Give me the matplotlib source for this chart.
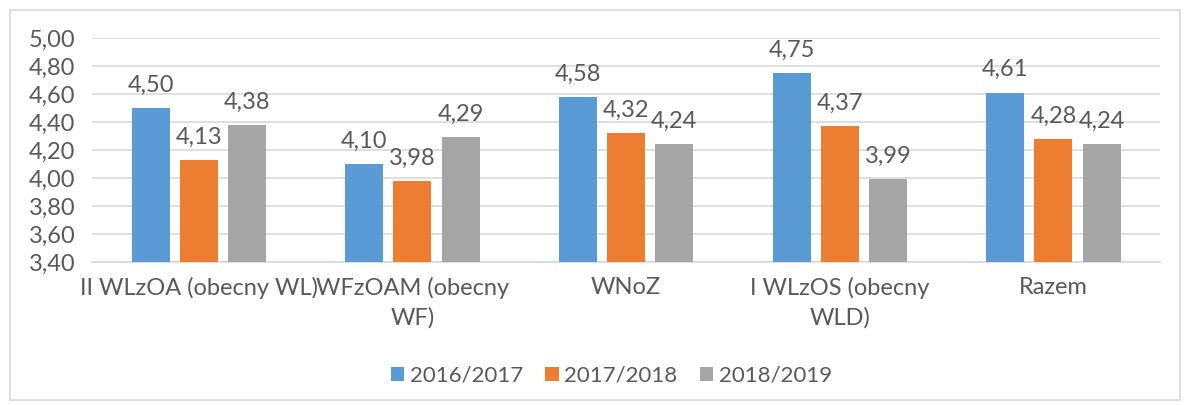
import numpy as np
import matplotlib.pyplot as plt
from matplotlib.patches import Rectangle

# dane z wykresu
kategorie = ['II WLzOA (obecny WL)', 'WFzOAM (obecny\nWF)', 'WNoZ', 'I WLzOS (obecny\nWLD)', 'Razem']
lata = ['2016/2017', '2017/2018', '2018/2019']
v_2016 = [4.50, 4.10, 4.58, 4.75, 4.61]
v_2017 = [4.13, 3.98, 4.32, 4.37, 4.28]
v_2018 = [4.38, 4.29, 4.24, 3.99, 4.24]
kolory = ['#5B9BD5', '#ED7D31', '#A5A5A5']

tekst = '#595959'
fs = 17
plt.rcParams['font.family'] = ['Lato', 'DejaVu Sans']

fig = plt.figure(figsize=(11.87, 4.05), dpi=100)
fig.patches.append(Rectangle((10 / 1187, 5 / 405), 1170 / 1187, 390 / 405,
                             transform=fig.transFigure, fill=False,
                             edgecolor='#D9D9D9', linewidth=1.2))
ax = fig.add_axes([0.0775, 0.353, 0.9, 0.553])

x = np.arange(len(kategorie))
w = 0.178
odstep = 0.047
for i, (seria, kolor, rok) in enumerate(zip([v_2016, v_2017, v_2018], kolory, lata)):
    pos = x + (i - 1) * (w + odstep)
    ax.bar(pos, [v - 3.4 for v in seria], w, bottom=3.4, color=kolor, label=rok, zorder=3)
    for p, v in zip(pos, seria):
        ax.annotate(f'{v:.2f}'.replace('.', ','), (p, v), xytext=(0, 9),
                    textcoords='offset points', ha='center', va='bottom',
                    fontsize=fs, color=tekst)

ax.set_ylim(3.4, 5.0)
ax.set_xlim(-0.5, len(kategorie) - 0.5)
yt = np.arange(3.4, 5.01, 0.2)
ax.set_yticks(yt)
ax.set_yticklabels([f'{t:.2f}'.replace('.', ',') for t in yt], fontsize=fs, color=tekst)
ax.set_xticks(x)
ax.set_xticklabels(kategorie, fontsize=fs, color=tekst, linespacing=1.45)
ax.tick_params(length=0, pad=11)
ax.tick_params(axis='y', pad=12)
ax.grid(axis='y', color='#D9D9D9', linewidth=1.2, zorder=0)
for s in ['top', 'right', 'left']:
    ax.spines[s].set_visible(False)
ax.spines['bottom'].set_color('#D9D9D9')
ax.spines['bottom'].set_linewidth(1.2)

fig.legend(loc='center', bbox_to_anchor=(0.515, 0.072), ncol=3, frameon=False,
           fontsize=16, labelcolor=tekst, handlelength=0.6, handleheight=0.6,
           handletextpad=0.25, columnspacing=1.0)

fig.savefig('out.png', dpi=100)
